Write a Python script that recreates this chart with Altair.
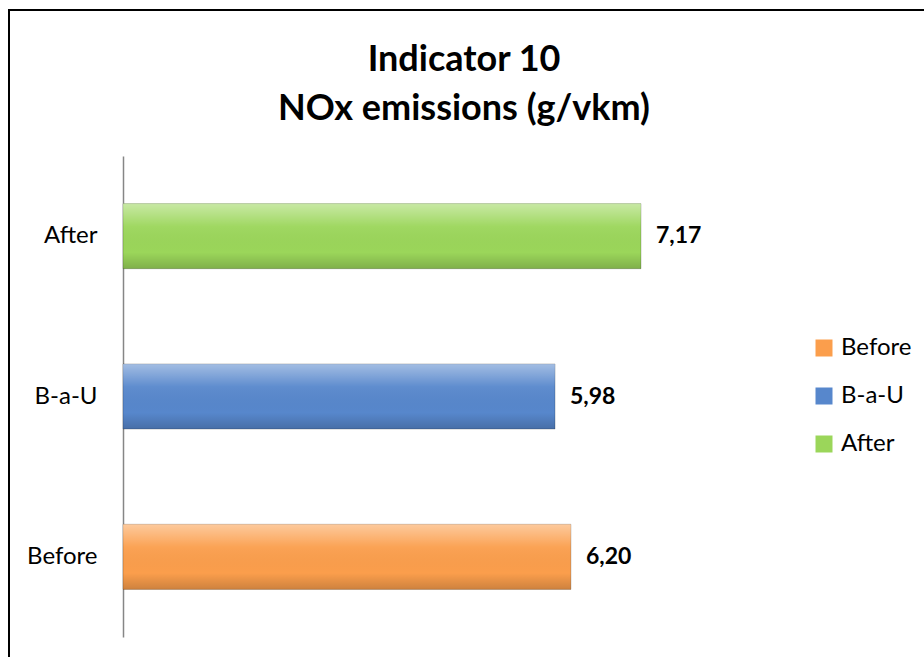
import altair as alt
import pandas as pd

categories = ["Before", "B-a-U", "After"]
values = [6.20, 5.98, 7.17]
labels = ["6,20", "5,98", "7,17"]
colors = ["#FB9E4C", "#5787CC", "#9BD65A"]

df = pd.DataFrame({"cat": categories, "val": values, "lab": labels})

FONT = "Lato"
W, H = 682, 481

y_enc = alt.Y("cat:N", sort=["After", "B-a-U", "Before"],
              scale=alt.Scale(paddingInner=0.594, paddingOuter=0.297),
              axis=alt.Axis(title=None, ticks=False, labelFontSize=24, labelFont=FONT,
                            labelColor="#000000", labelPadding=26, domainColor="#868686",
                            domainWidth=1.5, grid=False))
x_enc = alt.X("val:Q", scale=alt.Scale(domain=[0, 9.44], nice=False), axis=None)

base = alt.Chart(df)

frame = alt.Chart(pd.DataFrame({"a": [0]})).mark_rect(
    fill=None, stroke="black", strokeWidth=2
).encode(x=alt.value(-114), x2=alt.value(811), y=alt.value(-146), y2=alt.value(511))

bars = base.mark_bar(stroke="#00000033", strokeWidth=1).encode(
    x=x_enc, y=y_enc,
    color=alt.Color("cat:N", sort=categories,
                    scale=alt.Scale(domain=categories, range=colors),
                    legend=alt.Legend(title=None, orient="none", legendX=689, legendY=180,
                                      symbolType="square", symbolSize=289,
                                      symbolStrokeWidth=0, labelFontSize=24,
                                      labelFont=FONT, labelColor="#000000",
                                      rowPadding=24, labelOffset=5)),
)

shine = base.mark_bar(
    color=alt.Gradient(
        gradient="linear", x1=0, y1=0, x2=0, y2=1,
        stops=[alt.GradientStop(color="rgba(255,255,255,0.45)", offset=0),
               alt.GradientStop(color="rgba(255,255,255,0.05)", offset=0.35),
               alt.GradientStop(color="rgba(0,0,0,0.0)", offset=0.75),
               alt.GradientStop(color="rgba(0,0,0,0.18)", offset=1)]
    )
).encode(x=x_enc, y=y_enc)

text = base.mark_text(align="left", baseline="middle", dx=15, fontSize=23,
                      fontWeight="bold", font=FONT, color="#000000").encode(
    x=x_enc, y=y_enc, text="lab:N")

chart = alt.layer(frame, bars, shine, text).properties(
    width=W, height=H,
    background="white",
    padding={"left": 123, "top": 156, "right": 924 - 123 - W, "bottom": 657 - 156 - H},
    autosize=alt.AutoSizeParams(type="none"),
    title=alt.TitleParams(["Indicator 10", "NOx emissions (g/vkm)"], fontSize=36,
                          font=FONT, fontWeight="bold", color="#000000",
                          lineHeight=49, offset=-119, anchor="middle", frame="group"),
).configure_view(stroke=None)

chart.save("out.html", embed_options={"renderer": "svg", "actions": False})
